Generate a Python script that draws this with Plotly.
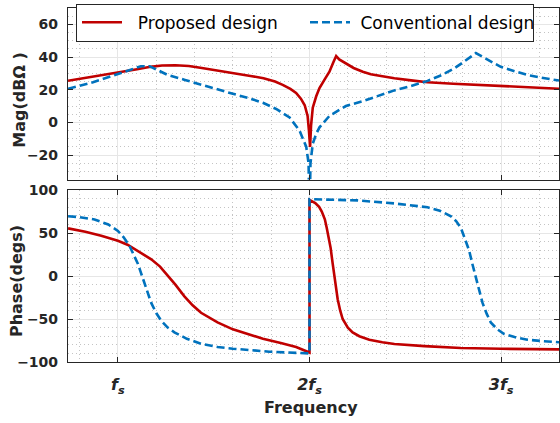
import numpy as np
import plotly.graph_objects as go

# Frequency axis in multiples of the switching frequency fs
# ---- Magnitude (dBΩ) ----
mag_prop_f = [0.74, 0.85, 1.0, 1.1, 1.17, 1.23, 1.3, 1.37, 1.43, 1.52, 1.6, 1.7, 1.76,
              1.82, 1.86, 1.9, 1.93, 1.955, 1.975, 1.99, 1.997, 2.003, 2.008, 2.017,
              2.035, 2.052, 2.08, 2.104, 2.125, 2.139, 2.155, 2.19, 2.23, 2.278, 2.32,
              2.365, 2.443, 2.53, 2.616, 2.75, 2.877, 3.0, 3.137, 3.302]
mag_prop = [25.5, 27.5, 30.4, 32.5, 34.0, 34.8, 35.0, 34.5, 33.4, 31.8, 30.2, 28.3, 27.0,
            25.0, 23.0, 20.5, 18.0, 14.5, 10.5, 4.0, -5.0, -15.0, -2.0, 9.0,
            16.0, 21.0, 26.5, 31.0, 37.0, 40.6, 38.5, 36.0, 33.3, 31.0, 29.5,
            28.6, 27.0, 25.7, 24.6, 23.7, 23.0, 22.3, 21.6, 20.6]

mag_conv_f = [0.74, 0.87, 1.0, 1.08, 1.12, 1.165, 1.2, 1.26, 1.35, 1.434, 1.52, 1.6, 1.68,
              1.757, 1.83, 1.896, 1.948, 1.983, 1.995, 2.0, 2.005, 2.017, 2.035, 2.052,
              2.104, 2.19, 2.278, 2.36, 2.443, 2.53, 2.616, 2.69, 2.755, 2.81, 2.868,
              2.92, 2.998, 3.07, 3.137, 3.22, 3.302]
mag_conv = [20.6, 24.6, 29.6, 32.8, 34.4, 34.4, 32.5, 29.0, 26.0, 23.0, 20.3, 17.5, 15.0,
            12.0, 8.0, 3.0, -5.0, -15.0, -25.0, -60.0, -25.0, -13.0, -7.0, -3.0,
            4.0, 10.0, 13.0, 16.5, 19.6, 22.3, 25.4, 29.0, 33.0, 37.5, 42.4,
            39.0, 34.0, 31.3, 29.0, 27.2, 25.6]

# ---- Phase (degrees) ----
ph_prop_f = [0.74, 0.83, 0.913, 1.0, 1.05, 1.087, 1.13, 1.174, 1.22, 1.26, 1.30, 1.347, 1.39,
             1.434, 1.48, 1.52, 1.6, 1.68, 1.757, 1.85, 1.93, 2.0, 2.0, 2.03, 2.05,
             2.064, 2.08, 2.09, 2.1, 2.11, 2.12, 2.13, 2.14, 2.147, 2.16, 2.173, 2.2,
             2.225, 2.26, 2.312, 2.38, 2.443, 2.6, 2.79, 3.0, 3.302]
ph_prop = [55.5, 51.5, 46.8, 41.0, 36.5, 31.5, 26.0, 19.5, 11.0, 1.0, -10.0, -23.6, -34.0,
           -42.7, -49.0, -54.0, -62.0, -68.0, -73.0, -78.0, -82.6, -89.0, 88.6, 85.0, 80.5,
           75.0, 66.0, 56.0, 45.0, 33.0, 16.0, -1.0, -18.0, -27.0, -40.0, -50.0, -60.0,
           -65.5, -70.0, -74.0, -77.0, -79.0, -81.5, -83.7, -84.6, -85.3]

ph_conv_f = [0.74, 0.8, 0.878, 0.95, 1.0, 1.03, 1.06, 1.08, 1.104, 1.12, 1.139, 1.155,
             1.174, 1.2, 1.226, 1.26, 1.295, 1.36, 1.434, 1.52, 1.6, 1.79, 2.0, 2.0,
             2.1, 2.25, 2.443, 2.55, 2.616, 2.68, 2.738, 2.765, 2.79, 2.81, 2.833, 2.85,
             2.868, 2.885, 2.903, 2.925, 2.946, 2.98, 3.016, 3.07, 3.137, 3.22, 3.302]
ph_conv = [69.6, 68.5, 65.8, 60.0, 52.5, 45.0, 35.4, 26.0, 14.4, 4.0, -8.4, -20.0,
           -31.3, -43.0, -52.0, -60.0, -65.5, -73.0, -78.8, -82.5, -84.5, -88.0, -90.0, 89.4,
           89.0, 88.0, 84.5, 82.0, 80.0, 76.0, 69.6, 64.0, 56.0, 44.0, 29.7, 14.0,
           -1.0, -16.0, -31.3, -44.0, -54.0, -62.0, -67.4, -71.0, -74.0, -75.8, -77.0]

x_tickvals = [1, 2, 3]
x_ticktext = ["<b><i>f<sub>s</sub></i></b>", "<b><i>2f<sub>s</sub></i></b>",
              "<b><i>3f<sub>s</sub></i></b>"]
mag_ticks = [-20, 0, 20, 40, 60]
ph_ticks = [-100, -50, 0, 50, 100]

RED = "#C00000"
BLUE = "#0072BD"
AX = "#262626"
FONT = "DejaVu Sans"
DASH = "8px,4px"
MAJOR_GRID = "#e6e6e6"
MINOR_GRID = "#c4c4c4"

fig = go.Figure()
fig.add_trace(go.Scatter(x=mag_prop_f, y=mag_prop, mode="lines", name="  Proposed design",
                         line=dict(color=RED, width=2.6), xaxis="x", yaxis="y"))
fig.add_trace(go.Scatter(x=mag_conv_f, y=mag_conv, mode="lines", name=" Conventional design  ",
                         line=dict(color=BLUE, width=2.6, dash=DASH), xaxis="x", yaxis="y"))
fig.add_trace(go.Scatter(x=ph_prop_f, y=ph_prop, mode="lines", showlegend=False,
                         line=dict(color=RED, width=2.6), xaxis="x2", yaxis="y2"))
fig.add_trace(go.Scatter(x=ph_conv_f, y=ph_conv, mode="lines", showlegend=False,
                         line=dict(color=BLUE, width=2.6, dash=DASH), xaxis="x2", yaxis="y2"))

x_minor = [round(v, 1) for v in np.arange(0.8, 3.31, 0.2) if abs(v - round(v)) > 1e-6]

def xaxis_cfg(labels, anchor):
    return dict(
        range=[0.7396, 3.302], anchor=anchor, domain=[0, 1],
        tickmode="array", tickvals=x_tickvals,
        ticktext=x_ticktext if labels else None, showticklabels=labels,
        ticks="inside", ticklen=5, tickcolor=AX, tickwidth=1,
        showline=True, linecolor=AX, linewidth=1.2, mirror="ticks",
        showgrid=True, gridcolor=MAJOR_GRID, gridwidth=1, zeroline=False,
        tickfont=dict(family=FONT, size=16, color=AX),
        ticklabelstandoff=8,
        minor=dict(tickmode="array", tickvals=x_minor, showgrid=True,
                   gridcolor=MINOR_GRID, griddash="1px,3px", gridwidth=1, ticks=""),
    )

def yaxis_cfg(rng, ticks, minor_dt, domain, anchor):
    return dict(
        range=rng, domain=domain, anchor=anchor,
        tickmode="array", tickvals=ticks,
        ticks="inside", ticklen=5, tickcolor=AX, tickwidth=1,
        showline=True, linecolor=AX, linewidth=1.2, mirror="ticks",
        showgrid=True, gridcolor=MAJOR_GRID, gridwidth=1, zeroline=False,
        tickfont=dict(family=FONT, size=14, color=AX, weight="bold"),
        ticklabelstandoff=6,
        minor=dict(dtick=minor_dt, tick0=0, showgrid=True,
                   gridcolor=MINOR_GRID, griddash="1px,3px", gridwidth=1, ticks=""),
    )

fig.update_layout(
    width=560, height=423,
    margin=dict(l=68, r=0, t=1, b=61),
    paper_bgcolor="white", plot_bgcolor="white",
    font=dict(family=FONT, color=AX),
    xaxis=xaxis_cfg(False, "y"),
    yaxis=yaxis_cfg([-35, 70], mag_ticks, 5, [0.5152, 1.0], "x"),
    xaxis2=xaxis_cfg(True, "y2"),
    yaxis2=yaxis_cfg([-100, 100], ph_ticks, 10, [0.0, 0.4856], "x2"),
    showlegend=True,
    legend=dict(orientation="h", x=0.0163, y=1.012, xanchor="left", yanchor="top",
                bgcolor="white", bordercolor=AX, borderwidth=1,
                font=dict(family=FONT, size=17, color="black"),
                itemwidth=40, entrywidth=173, tracegroupgap=0),
    annotations=[
        dict(text="<b>Mag(dBΩ )</b>", textangle=-90, xref="paper", yref="paper",
             x=-0.0986, y=0.7396, xanchor="center", yanchor="middle", showarrow=False,
             font=dict(family=FONT, size=16, color=AX)),
        dict(text="<b>Phase(degs)</b>", textangle=-90, xref="paper", yref="paper",
             x=-0.105, y=0.2299, xanchor="center", yanchor="middle", showarrow=False,
             font=dict(family=FONT, size=16, color=AX)),
        dict(text="<b>Frequency</b>", xref="paper", yref="paper",
             x=0.4955, y=-0.1275, xanchor="center", yanchor="middle", showarrow=False,
             font=dict(family=FONT, size=16, color=AX)),
    ],
)

fig.write_html("out.html")
